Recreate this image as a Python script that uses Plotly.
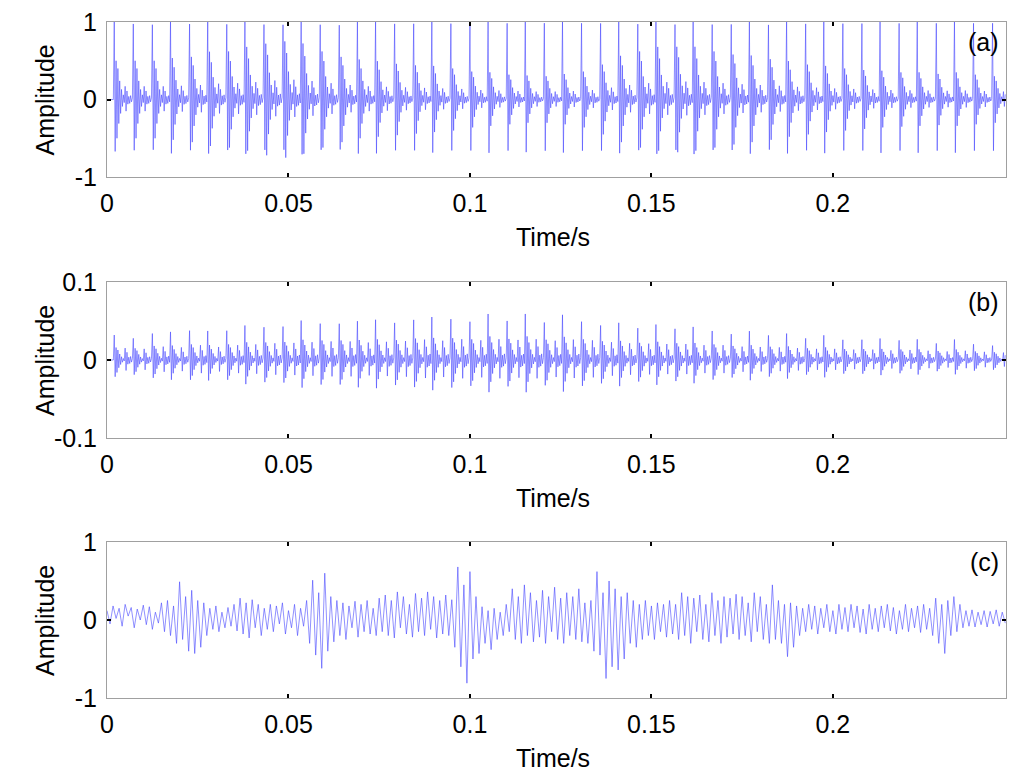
import numpy as np
import plotly.graph_objects as go
from plotly.subplots import make_subplots

fs = 4000           # samples per second for (a) and (b)
n_samples = 991     # about 0.2477 s

# impact times (s)
impulse_t = [0.0021, 0.0073, 0.0124, 0.0175, 0.0227, 0.0278, 0.0330, 0.0381,
             0.0433, 0.0484, 0.0536, 0.0587, 0.0639, 0.0690, 0.0741, 0.0793,
             0.0844, 0.0896, 0.0947, 0.0999, 0.1050, 0.1102, 0.1153, 0.1204,
             0.1256, 0.1307, 0.1359, 0.1410, 0.1462, 0.1513, 0.1564, 0.1616,
             0.1667, 0.1719, 0.1770, 0.1822, 0.1873, 0.1925, 0.1976, 0.2027,
             0.2079, 0.2130, 0.2182, 0.2233, 0.2285, 0.2336, 0.2388, 0.2439]

# (a) peak of each impact and level of the ringing after it
peak_a = [1.00, 1.00, 0.99, 1.00, 1.00, 1.00, 1.00, 1.00,
          1.00, 1.00, 1.00, 1.00, 0.99, 1.00, 1.00, 1.00,
          1.00, 0.99, 1.00, 1.00, 1.00, 1.00, 0.99, 1.00,
          1.00, 1.00, 1.00, 1.00, 1.00, 1.00, 1.00, 1.00,
          1.00, 1.00, 1.00, 0.99, 1.00, 1.00, 1.00, 1.00,
          1.00, 1.00, 1.00, 1.00, 1.00, 1.00, 1.00, 1.00]
ring_a = [0.50, 0.50, 0.50, 0.52, 0.55, 0.60, 0.62, 0.66,
          0.72, 0.75, 0.70, 0.62, 0.55, 0.50, 0.48, 0.46,
          0.44, 0.42, 0.40, 0.36, 0.34, 0.32, 0.30, 0.30,
          0.32, 0.36, 0.45, 0.55, 0.62, 0.66, 0.68, 0.66,
          0.62, 0.58, 0.55, 0.52, 0.48, 0.45, 0.42, 0.40,
          0.38, 0.36, 0.35, 0.34, 0.33, 0.34, 0.32, 0.30]

# (b) peak of each impact
peak_b = [0.032, 0.030, 0.036, 0.034, 0.040, 0.035, 0.040, 0.042,
          0.045, 0.046, 0.048, 0.050, 0.050, 0.047, 0.049, 0.051,
          0.055, 0.052, 0.056, 0.053, 0.056, 0.054, 0.056, 0.052,
          0.055, 0.053, 0.048, 0.045, 0.044, 0.043, 0.043, 0.040,
          0.040, 0.036, 0.035, 0.034, 0.032, 0.030, 0.030, 0.028,
          0.028, 0.026, 0.027, 0.025, 0.023, 0.025, 0.022, 0.020]

# (c) swings, 1200 values per second
fs_c = 1200
amp_c = [0.12, -0.05, 0.18, 0.02, 0.15, -0.08, 0.2, 0.05, 0.16, -0.1, 0.14, 0.0, 0.19, -0.06, 0.17, -0.12, 0.1, -0.04,
         0.22, -0.15, 0.25, -0.2, 0.18,
         -0.3, 0.49, -0.25, 0.3, -0.4, 0.38, -0.43, 0.25, -0.35, 0.22, -0.2,
         0.15, -0.12, 0.18, -0.15, 0.1, -0.1, 0.16, -0.08, 0.2, -0.14,
         0.28, -0.18, 0.22, -0.23, 0.26, -0.1, 0.2, -0.2, 0.15, -0.12,
         0.2, -0.15, 0.18, -0.05, 0.22, -0.18, 0.12, -0.1, 0.2, -0.2, 0.15, -0.08, 0.25,
         -0.3, 0.51, -0.45, 0.35, -0.62, 0.6, -0.4, 0.3,
         -0.28, 0.25, -0.2, 0.22, -0.25, 0.18, -0.1, 0.24, -0.22, 0.2, -0.15, 0.25, -0.18, 0.15, -0.2, 0.28,
         -0.15, 0.32, -0.2, 0.25, -0.23, 0.36, -0.1, 0.3, -0.18, 0.2, -0.22, 0.34, -0.15, 0.28, -0.2, 0.36,
         -0.12, 0.3, -0.23, 0.25, -0.18, 0.32, -0.2, 0.26,
         -0.35, 0.68, -0.6, 0.45, -0.81, 0.62, -0.5, 0.3,
         -0.43, 0.17, -0.3, 0.12, -0.38, 0.15, -0.25, 0.1, -0.2, 0.2,
         -0.15, 0.4, -0.25, 0.3, -0.3, 0.45, -0.2, 0.35, -0.28, 0.25, -0.22, 0.38, -0.3, 0.3,
         -0.15, 0.42, -0.25, 0.28, -0.3, 0.35, -0.2, 0.3, -0.25, 0.4, -0.28, 0.22, -0.3, 0.25,
         -0.4, 0.62, -0.45, 0.35, -0.75, 0.5, -0.6, 0.4, -0.64, 0.3, -0.5, 0.35, -0.3, 0.25, -0.35, 0.2, -0.25,
         0.25, -0.2, 0.18, -0.25, 0.22, -0.15, 0.2, -0.22, 0.25, -0.18, 0.2,
         -0.25, 0.35, -0.2, 0.3, -0.3, 0.28, -0.15, 0.32, -0.25, 0.2, -0.28, 0.35, -0.2, 0.25, -0.3, 0.3,
         -0.22, 0.28, -0.18, 0.33, -0.25, 0.3, -0.2, 0.22, -0.28, 0.35, -0.15, 0.3, -0.25, 0.2, -0.3, 0.45,
         -0.25, 0.25, -0.3, 0.2, -0.47, 0.22, -0.35, 0.18, -0.2, 0.15,
         -0.15, 0.2, -0.12, 0.18, -0.18, 0.15, -0.1, 0.2, -0.15, 0.12, -0.18, 0.2, -0.12, 0.16, -0.15,
         0.2, -0.1, 0.18, -0.16, 0.14, -0.18, 0.2, -0.12, 0.15, -0.15, 0.18, -0.1, 0.2, -0.14,
         0.16, -0.18, 0.12, -0.12, 0.2, -0.15, 0.15, -0.1, 0.18, -0.16, 0.2, -0.12, 0.15, -0.2,
         0.28, -0.3, 0.2, -0.43, 0.25, -0.2, 0.3, -0.15, 0.2,
         -0.1, 0.12, -0.08, 0.13, -0.09, 0.1, -0.06, 0.12, -0.09, 0.11, -0.05, 0.13, -0.08, 0.1, -0.04]

spike_shape = [1.0, -0.67]
ring_shape = [1.0, -1.0, 0.8, -0.62, 0.48, -0.36, 0.26, -0.18, 0.12, -0.08]
bump_shape = [0.34, -0.3, 0.22, -0.12, 0.08, -0.1, 0.1, -0.06, 0.04, -0.05, 0.03]
bump_offset = 12


def build(peaks, rings, bumps):
    sig = np.zeros(n_samples)
    for tk, p, r, b in zip(impulse_t, peaks, rings, bumps):
        i0 = int(round(tk * fs))
        pieces = [(0, np.array(spike_shape) * p),
                  (len(spike_shape), np.array(ring_shape) * r),
                  (bump_offset, np.array(bump_shape) * b)]
        for off, vals in pieces:
            s = i0 + off
            e = min(s + len(vals), n_samples)
            sig[s:e] += vals[:e - s]
    return sig


t = np.arange(n_samples) / fs
sig_a = build(peak_a, ring_a, ring_a)
sig_b = build(peak_b, [0.5 * p for p in peak_b], [1.4 * p for p in peak_b])
t_c = np.arange(len(amp_c)) / fs_c

font = "Liberation Sans, Arial, sans-serif"
line_col = "rgb(70,70,255)"

fig = make_subplots(rows=3, cols=1)
fig.add_trace(go.Scatter(x=t, y=sig_a, mode="lines", line=dict(color=line_col, width=0.6)), row=1, col=1)
fig.add_trace(go.Scatter(x=t, y=sig_b, mode="lines", line=dict(color=line_col, width=0.6)), row=2, col=1)
fig.add_trace(go.Scatter(x=t_c, y=amp_c, mode="lines", line=dict(color=line_col, width=0.6)), row=3, col=1)

domains = [[0.7707, 1.0], [0.3846, 0.6154], [0.0, 0.2308]]
yranges = [[-1, 1], [-0.1, 0.1], [-1, 1]]
yticks = [([-1, 0, 1], ["-1", "0", "1"]),
          ([-0.1, 0, 0.1], ["-0.1", "0", "0.1"]),
          ([-1, 0, 1], ["-1", "0", "1"])]
labels = ["(a)", "(b)", "(c)"]

axis_common = dict(showline=True, linecolor="rgb(160,160,160)", linewidth=1, mirror="ticks",
                   ticks="inside", ticklen=4, tickwidth=1.5, tickcolor="black",
                   showgrid=False, zeroline=False, automargin=False,
                   ticklabeloverflow="allow",
                   tickfont=dict(family=font, size=25, color="black"))

for i in range(3):
    r = i + 1
    fig.update_xaxes(range=[0, 0.2477], tickvals=[0, 0.05, 0.1, 0.15, 0.2],
                     ticktext=["0", "0.05", "0.1", "0.15", "0.2"], ticklabelstandoff=4,
                     row=r, col=1, **axis_common)
    fig.update_yaxes(range=yranges[i], tickvals=yticks[i][0], ticktext=yticks[i][1],
                     domain=domains[i], row=r, col=1, ticklabelstandoff=4, **axis_common)
    xs = "" if r == 1 else str(r)
    fig.add_annotation(text=labels[i], xref="x%s domain" % xs, yref="y%s domain" % xs,
                       x=0.994, y=0.87, xanchor="right", yanchor="middle", showarrow=False,
                       font=dict(family=font, size=25, color="black"))
    fig.add_annotation(text="Amplitude", xref="paper", yref="y%s domain" % xs,
                       x=-0.069, y=0.5, textangle=-90, xanchor="center", yanchor="middle",
                       showarrow=False, font=dict(family=font, size=25, color="black"))
    fig.add_annotation(text="Time/s", xref="x%s domain" % xs, yref="y%s domain" % xs,
                       x=0.496, y=-0.385, xanchor="center", yanchor="middle", showarrow=False,
                       font=dict(family=font, size=25, color="black"))

# the page body adds 8 px on the left and top, so margins are set to compensate
fig.update_layout(width=1024, height=780, showlegend=False,
                  paper_bgcolor="white", plot_bgcolor="white",
                  margin=dict(l=99, r=26, t=14, b=90))

fig.write_html("out.html")
